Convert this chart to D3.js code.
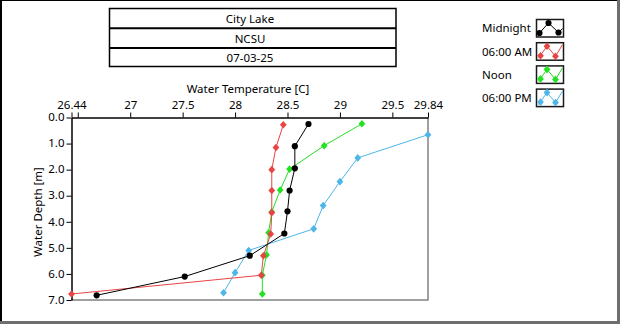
<!DOCTYPE html>
<html>
<head>
<meta charset="utf-8">
<script src="https://cdn.jsdelivr.net/npm/d3@7"></script>
<style>
  html, body { margin: 0; padding: 0; background: #fff; }
  svg { display: block; }
  text { font-family: "Noto Sans", "Open Sans", sans-serif; font-size: 11.5px; fill: #000; }
</style>
</head>
<body>
<svg id="chart" width="620" height="324"></svg>
<script>
// Header lines
const titleLines = ["City Lake", "NCSU", "07-03-25"];

// Series names and colours
const seriesNames = ["Midnight", "06:00 AM", "Noon", "06:00 PM"];
const seriesColors = ["#000000", "#e84444", "#22e022", "#4cb6e8"];

// Depth [m] and water temperature [C] per profile
const depthMidnight = [0.25, 1.10, 1.95, 2.80, 3.60, 4.45, 5.30, 6.10, 6.82];
const tempMidnight  = [28.70, 28.57, 28.57, 28.52, 28.50, 28.47, 28.14, 27.52, 26.68];

const depthMorning = [0.28, 1.15, 2.00, 2.80, 3.65, 4.47, 5.30, 6.05, 6.77];
const tempMorning  = [28.46, 28.39, 28.35, 28.35, 28.35, 28.34, 28.27, 28.25, 26.44];

const depthNoon = [0.24, 1.08, 1.98, 2.78, 3.62, 4.42, 5.27, 6.05, 6.77];
const tempNoon  = [29.21, 28.85, 28.52, 28.43, 28.35, 28.32, 28.30, 28.26, 28.26];

const depthEvening = [0.66, 1.55, 2.46, 3.38, 4.27, 5.10, 5.95, 6.72];
const tempEvening  = [29.84, 29.17, 29.00, 28.84, 28.75, 28.13, 28.00, 27.89];

// Axis ticks
const tempTicks = [26.44, 26.5, 27, 27.5, 28, 28.5, 29, 29.5, 29.84];
const tempTickLabels = ["26.44", "", "27", "27.5", "28", "28.5", "29", "29.5", "29.84"];
const depthTicks = [0, 1, 2, 3, 4, 5, 6, 7];

const series = [
  { name: seriesNames[0], color: seriesColors[0], marker: "circle",  depth: depthMidnight, temp: tempMidnight },
  { name: seriesNames[1], color: seriesColors[1], marker: "diamond", depth: depthMorning,  temp: tempMorning },
  { name: seriesNames[2], color: seriesColors[2], marker: "diamond", depth: depthNoon,     temp: tempNoon },
  { name: seriesNames[3], color: seriesColors[3], marker: "diamond", depth: depthEvening,  temp: tempEvening }
];

const svg = d3.select("#chart");

// Outer panel with a grey drop edge on right and bottom
svg.append("rect").attr("x", 0).attr("y", 0).attr("width", 620).attr("height", 324).attr("fill", "#6e6e6e");
svg.append("rect").attr("x", 0).attr("y", 0).attr("width", 617).attr("height", 321).attr("fill", "#000");
svg.append("rect").attr("x", 2).attr("y", 1).attr("width", 615).attr("height", 320).attr("fill", "#fff");

// Header table
const box = { x: 109.5, y: 8.5, w: 286.5, h: 58 };
const rowEdges = [box.y, 28.3, 48, box.y + box.h];
const header = svg.append("g");
header.append("rect")
  .attr("x", box.x).attr("y", box.y).attr("width", box.w).attr("height", box.h)
  .attr("fill", "none").attr("stroke", "#000").attr("stroke-width", 1.5);
[rowEdges[1], rowEdges[2]].forEach(yy => {
  header.append("line")
    .attr("x1", box.x).attr("x2", box.x + box.w).attr("y1", yy).attr("y2", yy)
    .attr("stroke", "#000").attr("stroke-width", 2);
});
titleLines.forEach((t, i) => {
  header.append("text")
    .attr("x", 250).attr("y", (rowEdges[i] + rowEdges[i + 1]) / 2)
    .attr("text-anchor", "middle").attr("dominant-baseline", "central")
    .text(t);
});

// Plot area
const plot = { left: 71.5, top: 117.5, right: 428, bottom: 300 };
const x = d3.scaleLinear().domain([26.44, 29.84]).range([plot.left, plot.right]);
const y = d3.scaleLinear().domain([0, 7]).range([plot.top, plot.bottom]);

// Right/bottom plot frame in grey
const frame = svg.append("g");
frame.append("line").attr("x1", plot.right).attr("x2", plot.right).attr("y1", plot.top).attr("y2", plot.bottom + 0.5)
  .attr("stroke", "#808080").attr("stroke-width", 1.5);
frame.append("line").attr("x1", plot.left).attr("x2", plot.right).attr("y1", plot.bottom).attr("y2", plot.bottom)
  .attr("stroke", "#808080").attr("stroke-width", 1.5);

// Top temperature axis
const xAxis = d3.axisTop(x)
  .tickValues(tempTicks)
  .tickFormat((d, i) => tempTickLabels[i])
  .tickSizeInner(5).tickSizeOuter(0).tickPadding(4);
const gx = svg.append("g").attr("transform", `translate(0,${plot.top})`).call(xAxis);
gx.select(".domain").attr("stroke", "#000").attr("stroke-width", 1.5);
gx.selectAll(".tick line").attr("stroke", "#000");
gx.selectAll(".tick text").attr("font-family", null).attr("font-size", null).attr("fill", "#000");
svg.append("text").attr("x", 248).attr("y", 88.5)
  .attr("text-anchor", "middle").attr("dominant-baseline", "central")
  .text("Water Temperature [C]");

// Left depth axis
const yAxis = d3.axisLeft(y)
  .tickValues(depthTicks)
  .tickFormat(d3.format(".1f"))
  .tickSizeInner(5).tickSizeOuter(0).tickPadding(2);
const gy = svg.append("g").attr("transform", `translate(${plot.left},0)`).call(yAxis);
gy.select(".domain").attr("stroke", "#000").attr("stroke-width", 1.5);
gy.selectAll(".tick line").attr("stroke", "#000");
gy.selectAll(".tick text").attr("font-family", null).attr("font-size", null).attr("fill", "#000")
  .attr("dy", "0.28em");
svg.append("text")
  .attr("transform", `translate(37,212) rotate(-90)`)
  .attr("text-anchor", "middle").attr("dominant-baseline", "central")
  .text("Water Depth [m]");

// Marker shapes
function markerPath(kind) {
  if (kind === "circle") return d3.symbol(d3.symbolCircle, 30)();
  return "M0,-3.8L3.4,0L0,3.8L-3.4,0Z";
}

// Profiles: draw order puts the morning trace above noon
const drawOrder = [3, 2, 1, 0];
const line = d3.line().x(p => x(p.t)).y(p => y(p.d));
const plotG = svg.append("g");
drawOrder.forEach(si => {
  const s = series[si];
  const pts = s.depth.map((d, i) => ({ d, t: s.temp[i] }));
  const g = plotG.append("g");
  g.append("path").datum(pts).attr("d", line)
    .attr("fill", "none").attr("stroke", s.color).attr("stroke-width", 1);
  g.selectAll("path.m").data(pts).join("path").attr("class", "m")
    .attr("transform", p => `translate(${x(p.t)},${y(p.d)})`)
    .attr("d", markerPath(s.marker))
    .attr("fill", s.color);
});

// Legend
const legend = svg.append("g");
const legendTop = 19.5, legendStep = 23.2;
series.forEach((s, i) => {
  const yy = legendTop + i * legendStep;
  legend.append("text").attr("x", 482).attr("y", yy + 8.3)
    .attr("dominant-baseline", "central").text(s.name);
  const bx = 536.5, by = yy;
  legend.append("rect").attr("x", bx).attr("y", by).attr("width", 27).attr("height", 17.5)
    .attr("fill", "#fff").attr("stroke", "#1a1a1a").attr("stroke-width", 1.5);
  let icon, dots;
  if (s.marker === "circle") {
    icon = [[2, 14.5], [12, 3.5], [22, 13], [26, 9]];
    dots = [[3, 13.5], [12, 3.5], [22, 13]];
  } else {
    icon = [[2, 15.5], [10.5, 3.5], [19, 13.5], [26, 2]];
    dots = [[4, 13], [10.5, 3.5], [19, 13.5]];
  }
  legend.append("path")
    .attr("d", d3.line()(icon.map(p => [bx + p[0], by + p[1]])))
    .attr("fill", "none").attr("stroke", s.color).attr("stroke-width", 1);
  dots.forEach(p => {
    legend.append("path")
      .attr("transform", `translate(${bx + p[0]},${by + p[1]})`)
      .attr("d", markerPath(s.marker)).attr("fill", s.color);
  });
});
</script>
</body>
</html>
